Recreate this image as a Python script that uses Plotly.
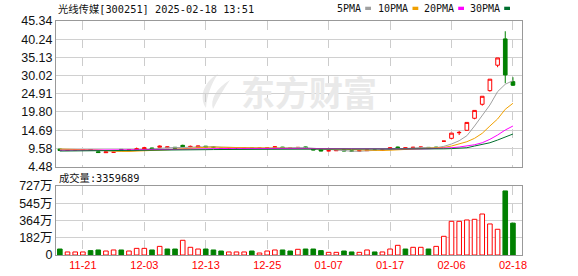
import plotly.graph_objects as go

# ---------------- data ----------------
dates = [
    "2024-11-18", "2024-11-19", "2024-11-20", "2024-11-21", "2024-11-22",
    "2024-11-25", "2024-11-26", "2024-11-27", "2024-11-28", "2024-11-29",
    "2024-12-02", "2024-12-03", "2024-12-04", "2024-12-05", "2024-12-06",
    "2024-12-09", "2024-12-10", "2024-12-11", "2024-12-12", "2024-12-13",
    "2024-12-16", "2024-12-17", "2024-12-18", "2024-12-19", "2024-12-20",
    "2024-12-23", "2024-12-24", "2024-12-25", "2024-12-26", "2024-12-27",
    "2024-12-30", "2024-12-31", "2025-01-02", "2025-01-03", "2025-01-06",
    "2025-01-07", "2025-01-08", "2025-01-09", "2025-01-10", "2025-01-13",
    "2025-01-14", "2025-01-15", "2025-01-16", "2025-01-17", "2025-01-20",
    "2025-01-21", "2025-01-22", "2025-01-23", "2025-01-24", "2025-01-27",
    "2025-02-05", "2025-02-06", "2025-02-07", "2025-02-10", "2025-02-11",
    "2025-02-12", "2025-02-13", "2025-02-14", "2025-02-17", "2025-02-18",
]

opens = [9.35, 9.00, 9.10, 9.15, 9.25, 8.62, 8.36, 8.50, 9.28, 9.05,
         9.12, 9.48, 9.68, 9.88, 9.76, 9.88, 10.42, 10.08, 9.88, 10.18,
         9.98, 9.64, 9.40, 9.72, 9.62, 9.70, 9.60, 9.62, 9.76, 9.92,
         9.66, 9.82, 9.98, 9.45, 9.18, 8.86, 8.90, 9.18, 8.86, 8.82,
         8.92, 9.10, 9.04, 9.40, 9.95, 9.42, 9.82, 9.88, 9.85, 9.92,
         11.59, 12.39, 13.95, 14.64, 18.02, 21.95, 25.78, 32.92, 40.32, 28.31]
highs = [9.45, 9.18, 9.26, 9.32, 9.30, 8.70, 8.66, 8.62, 9.35, 9.22,
         9.80, 10.00, 9.75, 10.40, 10.05, 9.95, 10.60, 10.35, 10.32, 10.25,
         10.05, 9.70, 9.72, 9.78, 9.78, 9.75, 9.70, 9.78, 10.08, 9.98,
         9.78, 9.92, 10.05, 9.50, 9.22, 8.98, 9.05, 9.22, 8.92, 8.96,
         9.15, 9.16, 9.18, 9.80, 10.05, 9.80, 10.02, 10.00, 9.90, 10.00,
         11.59, 13.85, 14.44, 16.86, 20.23, 24.20, 29.00, 34.97, 42.46, 29.55]
lows = [8.95, 8.95, 9.05, 9.10, 9.00, 8.35, 8.30, 8.42, 9.00, 9.00,
        9.05, 9.42, 9.38, 9.82, 9.70, 9.58, 10.00, 9.85, 9.82, 9.88,
        9.82, 9.38, 9.36, 9.60, 9.56, 9.55, 9.55, 9.58, 9.70, 9.65,
        9.58, 9.75, 9.58, 9.08, 8.80, 8.80, 8.85, 8.80, 8.74, 8.78,
        8.88, 9.00, 9.00, 9.36, 9.72, 9.38, 9.78, 9.84, 9.58, 9.62,
        11.59, 12.11, 13.32, 14.55, 17.74, 21.56, 25.50, 32.36, 27.86, 27.10]
closes = [9.00, 9.10, 9.20, 9.25, 9.05, 8.40, 8.58, 8.52, 9.05, 9.15,
          9.45, 9.72, 9.42, 10.18, 9.98, 9.62, 10.05, 10.12, 10.25, 9.92,
          9.90, 9.42, 9.64, 9.66, 9.70, 9.60, 9.64, 9.72, 10.00, 9.70,
          9.68, 9.84, 9.62, 9.12, 8.84, 8.92, 8.98, 8.84, 8.80, 8.90,
          9.08, 9.04, 9.12, 9.72, 9.80, 9.74, 9.86, 9.92, 9.62, 9.66,
          11.59, 13.85, 14.05, 16.86, 20.23, 24.20, 29.00, 34.97, 30.19, 27.30]

ma5 = [9.30, 9.25, 9.20, 9.15, 9.12, 9.00, 8.92, 8.76, 8.72, 8.74,
       8.95, 9.18, 9.36, 9.58, 9.75, 9.78, 9.85, 9.99, 10.00, 9.99,
       10.05, 9.92, 9.83, 9.71, 9.62, 9.60, 9.65, 9.66, 9.73, 9.73,
       9.75, 9.79, 9.77, 9.59, 9.30, 9.12, 9.00, 8.85, 8.78, 8.76,
       8.88, 8.93, 8.99, 9.17, 9.35, 9.48, 9.65, 9.81, 9.79, 9.76,
       10.13, 10.79, 11.72, 13.12, 15.85, 18.94, 21.76, 25.50, 27.58, 28.59]
ma10 = [9.38, 9.36, 9.32, 9.28, 9.22, 9.10, 8.95, 8.80, 8.72, 8.72,
        8.78, 8.85, 8.94, 9.07, 9.17, 9.32, 9.51, 9.67, 9.80, 9.88,
        9.91, 9.88, 9.90, 9.87, 9.85, 9.81, 9.78, 9.74, 9.72, 9.69,
        9.67, 9.69, 9.69, 9.64, 9.56, 9.49, 9.43, 9.34, 9.22, 9.14,
        9.08, 9.00, 8.99, 9.05, 9.15, 9.23, 9.32, 9.42, 9.50, 9.57,
        9.82, 10.23, 10.79, 11.44, 12.39, 13.80, 15.85, 17.82, 20.55, 22.23]
ma20 = [9.02, 9.03, 9.04, 9.05, 9.05, 9.04, 9.03, 9.02, 9.03, 9.04,
        9.06, 9.10, 9.13, 9.18, 9.22, 9.24, 9.30, 9.36, 9.43, 9.47,
        9.51, 9.52, 9.55, 9.56, 9.55, 9.53, 9.53, 9.52, 9.51, 9.50,
        9.49, 9.49, 9.47, 9.44, 9.40, 9.38, 9.38, 9.37, 9.36, 9.35,
        9.34, 9.33, 9.32, 9.32, 9.33, 9.35, 9.38, 9.41, 9.45, 9.50,
        9.60, 9.75, 9.95, 10.23, 10.59, 11.15, 12.11, 13.32, 14.73, 15.85]
ma30 = [8.82, 8.83, 8.84, 8.85, 8.86, 8.86, 8.87, 8.88, 8.90, 8.93,
        8.96, 8.99, 9.01, 9.04, 9.07, 9.09, 9.12, 9.15, 9.18, 9.21,
        9.24, 9.26, 9.28, 9.30, 9.32, 9.34, 9.36, 9.38, 9.40, 9.42,
        9.43, 9.44, 9.44, 9.43, 9.42, 9.41, 9.40, 9.39, 9.38, 9.37,
        9.37, 9.36, 9.36, 9.37, 9.37, 9.38, 9.38, 9.39, 9.39, 9.40,
        9.44, 9.50, 9.58, 9.75, 10.23, 10.71, 11.15, 11.91, 12.67, 13.60]

volume_wan = [63, 32, 32, 32, 46, 53, 42, 53, 53, 42,
              70, 70, 53, 91, 63, 63, 155, 81, 63, 63,
              53, 42, 32, 32, 32, 42, 21, 42, 53, 53,
              42, 60, 63, 63, 46, 28, 28, 42, 32, 28,
              53, 32, 32, 63, 102, 63, 81, 81, 63, 91,
              197, 355, 355, 369, 376, 432, 327, 271, 675, 336]
volume_up = [0, 1, 1, 1, 0, 0, 1, 1, 0, 1,
             1, 1, 0, 1, 0, 0, 1, 1, 1, 0,
             0, 0, 1, 1, 1, 0, 1, 1, 1, 0,
             0, 1, 0, 0, 0, 1, 1, 0, 0, 1,
             1, 0, 1, 1, 1, 0, 1, 1, 0, 1,
             1, 1, 1, 1, 1, 1, 1, 1, 0, 0]

price_ticks = ["4.48", "9.58", "14.69", "19.80", "24.91", "30.02", "35.13", "40.24", "45.34"]
volume_ticks = [0, 182, 364, 545, 727]
volume_tick_text = ["0", "182万", "364万", "545万", "727万"]
date_tick_vals = ["2024-11-21", "2024-12-03", "2024-12-13", "2024-12-25",
                  "2025-01-07", "2025-01-17", "2025-02-06", "2025-02-18"]
date_tick_text = ["11-21", "12-03", "12-13", "12-25", "01-07", "01-17", "02-06", "02-18"]

title_text = "光线传媒[300251] 2025-02-18 13:51"
volume_text = "成交量:3359689"
ma_names = ["5PMA", "10PMA", "20PMA", "30PMA"]

# ---------------- style ----------------
RED = "#ff0000"
GREEN = "#008000"
MA_COLORS = ["#a0a0a0", "#f0a000", "#ff00ff", "#006f2e"]
W, H = 578, 276
L, R, T, B = 56, 56, 21, 21
PW, PH = W - L - R, H - T - B
MONO = "DejaVu Sans Mono, Noto Sans CJK SC, sans-serif"


def fx(px):
    return (px - L) / PW


def fy(py):
    return (H - B - py) / PH


fig = go.Figure()

fig.add_trace(go.Candlestick(
    x=dates, open=opens, high=highs, low=lows, close=closes,
    increasing=dict(line=dict(color=RED, width=1), fillcolor="white"),
    decreasing=dict(line=dict(color=GREEN, width=1), fillcolor=GREEN),
    xaxis="x", yaxis="y", showlegend=False, hoverinfo="skip",
))

for name, vals, col in zip(ma_names, [ma5, ma10, ma20, ma30], MA_COLORS):
    fig.add_trace(go.Scatter(
        x=dates, y=vals, mode="lines", name=name,
        line=dict(color=col, width=1), xaxis="x", yaxis="y",
        showlegend=False, hoverinfo="skip",
    ))

fig.add_trace(go.Bar(
    x=dates, y=volume_wan, width=0.6,
    marker=dict(color=["white" if u else GREEN for u in volume_up],
                line=dict(color=[RED if u else GREEN for u in volume_up], width=1)),
    xaxis="x2", yaxis="y2", showlegend=False, hoverinfo="skip",
))

xcommon = dict(
    type="category", categoryorder="array", categoryarray=dates,
    range=[-0.5, 60.18], tickvals=date_tick_vals, ticktext=date_tick_text,
    showgrid=True, gridcolor="#cccccc", griddash="dash", gridwidth=1,
    showline=True, linecolor="#999999", linewidth=1, mirror=True,
    ticks="", fixedrange=True, automargin=False,
)

price_vals = [float(v) for v in price_ticks]

fig.update_layout(
    width=W, height=H,
    margin=dict(l=L, r=R, t=T, b=B, pad=0),
    paper_bgcolor="white", plot_bgcolor="white",
    boxgap=0.32,
    bargap=0.3,
    xaxis=dict(xcommon, anchor="y", showticklabels=False,
               rangeslider=dict(visible=False)),
    xaxis2=dict(xcommon, anchor="y2", showticklabels=True,
                tickfont=dict(family="Liberation Sans, Arial", size=11, color=RED)),
    yaxis=dict(domain=[fy(166.5), 1.0], range=[4.48, 45.34],
               tickvals=price_vals, ticktext=price_ticks,
               showgrid=True, gridcolor="#d0d0d0", gridwidth=1,
               showline=True, linecolor="#999999", linewidth=1, mirror=True,
               zeroline=False, ticks="", automargin=False,
               tickfont=dict(family="Liberation Sans, Arial", size=12.5, color="#111111")),
    yaxis2=dict(domain=[0.0, fy(186)], range=[0, 727],
                tickvals=volume_ticks, ticktext=volume_tick_text,
                showgrid=True, gridcolor="#d0d0d0", gridwidth=1,
                showline=True, linecolor="#999999", linewidth=1, mirror=True,
                zeroline=False, ticks="", automargin=False,
                tickfont=dict(family="Liberation Sans, Noto Sans CJK SC, Arial", size=12.5, color="#111111")),
)

annotations = [
    dict(text="东方财富", xref="paper", yref="paper", x=fx(309), y=fy(91),
         xanchor="center", yanchor="middle", showarrow=False,
         font=dict(family="Noto Sans CJK SC", size=34, color="#e9e9e9", weight="bold")),
    dict(text=title_text, xref="paper", yref="paper", x=fx(56), y=fy(9.5),
         xanchor="left", yanchor="middle", showarrow=False,
         font=dict(family=MONO, size=10.3, color="#111111")),
    dict(text=volume_text, xref="paper", yref="paper", x=fx(57), y=fy(177.5),
         xanchor="left", yanchor="middle", showarrow=False,
         font=dict(family=MONO, size=10.3, color="#111111")),
]

legend_right = [362.7, 410, 455.7, 501.7]
shapes = []
for name, col, xr in zip(ma_names, MA_COLORS, legend_right):
    annotations.append(dict(text=name, xref="paper", yref="paper", x=fx(xr), y=fy(8.5),
                            xanchor="right", yanchor="middle", showarrow=False,
                            font=dict(family=MONO, size=10, color="#111111")))
    shapes.append(dict(type="rect", xref="paper", yref="paper",
                       x0=fx(xr + 2.5), x1=fx(xr + 8.3), y0=fy(10), y1=fy(6.7),
                       fillcolor=col, line=dict(width=0)))


def path_px(points):
    parts = []
    for cmd, pts in points:
        coords = " ".join(f"{fx(a):.5f},{fy(b):.5f}" for a, b in pts)
        parts.append(f"{cmd} {coords}")
    return " ".join(parts) + " Z"


# watermark logo (two curved petals)
shapes.append(dict(type="path", xref="paper", yref="paper", layer="below",
                   path=path_px([("M", [(218, 74)]), ("C", [(203, 82), (199, 98), (206, 108)]),
                                 ("C", [(207, 96), (211, 84), (218, 74)])]),
                   fillcolor="#eaeaea", line=dict(width=0)))
shapes.append(dict(type="path", xref="paper", yref="paper", layer="below",
                   path=path_px([("M", [(230, 80)]), ("C", [(216, 88), (210, 100), (213, 109)]),
                                 ("C", [(218, 99), (223, 90), (230, 80)])]),
                   fillcolor="#eaeaea", line=dict(width=0)))

fig.update_layout(annotations=annotations, shapes=shapes)

fig.write_html("out.html")
